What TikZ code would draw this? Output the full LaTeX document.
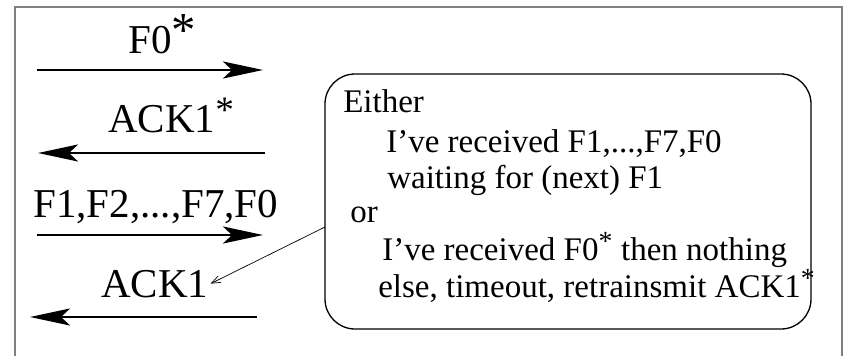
\documentclass[tikz,border=0pt]{standalone}
\usepackage{fontspec}
\setmainfont{Liberation Serif}
\usepackage{tikz}
\usetikzlibrary{arrows.meta,positioning,calc}
\newcommand{\Rx}[1][1.2]{\textsuperscript{\scalebox{#1}{*}}}
\newcommand{\LblFont}{\fontsize{41}{45}\selectfont}
\newcommand{\NoteFont}{\fontsize{33}{37}\selectfont}

\begin{document}
\begin{tikzpicture}[x=1pt, y=-1pt, >={Stealth[length=40pt,width=17pt,inset=9pt]}, line width=2.6pt]
		\tikzstyle{msg}=[->]
		\tikzstyle{lbl}=[anchor=base west, inner sep=0pt, font=\LblFont]
		\tikzstyle{txt}=[anchor=base west, inner sep=0pt, font=\NoteFont]
		\tikzstyle{pointer}=[-{Straight Barb[length=9pt,width=7pt]}, line width=0.7pt]
		\useasboundingbox (0,0) rectangle (849,356);
		% open frame
		\draw[gray, line width=2pt] (15,356) -- (15,7) -- (842,7) -- (842,356);
		\begin{scope}
			\coordinate (f0a) at (37,70); \coordinate (f0b) at (263,70);
			\coordinate (k1a) at (265,153); \coordinate (k1b) at (38,153);
			\coordinate (fsa) at (37,235); \coordinate (fsb) at (263,235);
			\coordinate (k2a) at (257,317); \coordinate (k2b) at (30,317);
			\node[lbl] (f0) at (127,53) {F0\raisebox{-3pt}{\Rx[1.7]}};
			\node[lbl] (ack1s) at (107,132) {ACK1\Rx[1.3]};
			\node[lbl] (frames) at (32,217) {F1,F2,...,F7,F0};
			\node[lbl, inner sep=1pt] (ack1) at (99,297) {ACK1};
			\draw[msg] (f0a) -- (f0b); \draw[msg] (k1a) -- (k1b);
			\draw[msg] (fsa) -- (fsb); \draw[msg] (k2a) -- (k2b);
		\end{scope}
		% the receiver's note
		\node[draw, line width=1.3pt, rounded corners=30pt, minimum width=486pt,
			minimum height=255pt] (note) at (568,201.5) {};
		\node[txt] (either) at (342,112) {Either};
		\node[txt] (got) at (385,152) {I’ve received F1,...,F7,F0};
		\node[txt] (wait) at (386,188) {waiting for (next) F1};
		\node[txt] (or) at (349,222) {or};
		\node[txt] (got0) at (381,260) {I’ve received F0\Rx{} then nothing};
		\node[txt] (tout) at (377,297) {else, timeout, retrainsmit ACK1\Rx};
		\coordinate (ptr) at (325,227);
		\draw[pointer] (ptr) -- (ack1.east);
	\end{tikzpicture}
\end{document}
